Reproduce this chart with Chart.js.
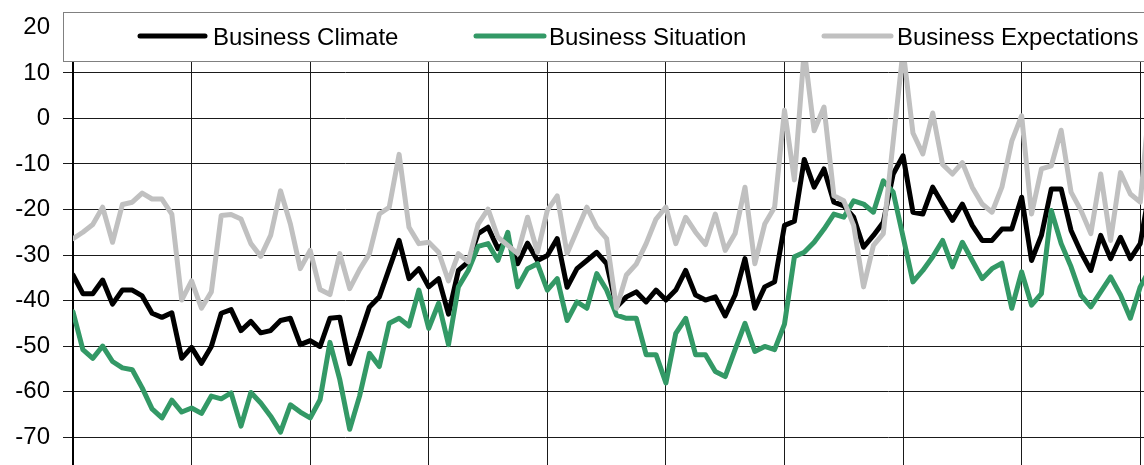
<!DOCTYPE html>
<html>
<head>
<meta charset="utf-8">
<script src="https://cdn.jsdelivr.net/npm/chart.js@4/dist/chart.umd.min.js"></script>
<style>
    html, body { margin: 0; padding: 0; background: #fff; overflow: hidden; }
    #wrap { width: 1160px; height: 510px; }
</style>
</head>
<body>
<div id="wrap"><canvas id="ifoChart" width="1160" height="510"></canvas></div>
<script>
// Monthly index values (month 0 = left axis)
const seriesNames = ['Business Climate', 'Business Situation', 'Business Expectations'];

const climate = [
    -34.4, -38.5, -38.5, -35.5, -40.8, -37.7, -37.7, -39.0, -42.8, -43.7, -42.7, -52.7,
    -50.3, -53.8, -50.1, -42.8, -42.0, -46.6, -44.6, -47.1, -46.6, -44.4, -43.9, -49.7,
    -48.8, -50.1, -43.9, -43.7, -53.9, -47.9, -41.4, -39.2, -33.0, -26.8, -35.2, -33.0,
    -37.0, -35.2, -43.0, -33.4, -31.5, -25.3, -23.9, -28.6, -26.8, -31.9, -27.4, -31.2,
    -30.1, -26.4, -37.1, -33.0, -31.2, -29.4, -31.9, -41.4, -39.2, -38.1, -40.3, -37.7,
    -39.9, -37.7, -33.4, -38.8, -39.9, -39.2, -43.4, -38.8, -30.8, -41.7, -37.0, -35.9,
    -23.5, -22.6, -9.0, -15.1, -11.1, -18.4, -19.2, -21.7, -28.3, -25.7, -22.8, -12.2,
    -8.2, -20.6, -21.0, -15.1, -18.8, -22.4, -18.8, -23.5, -26.8, -26.8, -24.3, -24.3,
    -17.3, -31.2, -25.7, -15.5, -15.5, -24.6, -29.4, -33.4, -25.7, -30.8, -26.1, -30.8,
    -27.5, -15.0
];

const situation = [
    -42.5, -50.8, -52.7, -50.0, -53.4, -54.8, -55.2, -59.2, -63.8, -65.8, -61.9, -64.5,
    -63.6, -64.8, -61.0, -61.6, -60.3, -67.6, -60.2, -62.5, -65.4, -68.9, -62.9, -64.5,
    -65.8, -61.8, -49.2, -57.4, -68.3, -61.0, -51.6, -54.5, -45.0, -43.9, -45.6, -37.7,
    -46.1, -40.6, -49.7, -37.0, -33.4, -28.1, -27.5, -31.2, -25.0, -37.0, -33.0, -31.9,
    -37.7, -35.2, -44.4, -40.3, -41.7, -34.1, -37.7, -43.2, -43.9, -43.9, -51.9, -51.9,
    -58.1, -47.2, -43.9, -51.9, -51.9, -55.6, -56.7, -50.8, -45.0, -51.2, -50.1, -50.8,
    -45.2, -30.4, -29.4, -27.2, -24.3, -21.0, -21.7, -18.1, -18.8, -20.6, -13.7, -16.2,
    -26.0, -35.9, -33.4, -30.4, -26.8, -32.6, -27.2, -31.2, -35.2, -33.0, -31.8, -41.7,
    -33.7, -41.0, -38.5, -20.2, -27.5, -32.6, -38.8, -41.4, -38.1, -34.8, -38.8, -43.9,
    -37.0, -33.0
];

const expectations = [
    -26.4, -25.0, -23.3, -19.5, -27.2, -18.9, -18.4, -16.4, -17.7, -17.7, -21.0, -39.9,
    -35.7, -41.7, -38.1, -21.3, -21.1, -22.1, -27.5, -30.3, -25.7, -15.9, -23.2, -33.0,
    -29.0, -37.6, -38.7, -29.7, -37.4, -33.2, -29.7, -21.0, -19.5, -7.9, -23.9, -27.5,
    -27.2, -29.4, -35.7, -29.7, -31.5, -23.2, -19.9, -26.1, -27.9, -29.7, -21.7, -29.4,
    -20.2, -17.0, -29.7, -24.6, -19.5, -23.9, -26.4, -41.7, -34.4, -32.0, -27.5, -22.1,
    -19.5, -27.5, -21.7, -25.0, -27.7, -21.0, -29.0, -25.3, -15.1, -31.9, -23.2, -19.5,
    1.8, -13.5, 15.0, -2.7, 2.5, -17.0, -18.1, -23.5, -37.0, -27.9, -25.3, -5.0,
    15.0, -3.2, -7.8, 1.2, -10.1, -12.2, -9.7, -15.1, -18.8, -20.6, -15.1, -5.0,
    0.6, -21.0, -11.1, -10.4, -2.6, -16.2, -20.2, -25.3, -12.2, -26.8, -11.9, -16.6,
    -18.4, 5.0
];

// month positions on the x axis
const months = climate.map((_, i) => i);

const yTicks = { min: -80, max: 20, step: 10 };

const toPoints = arr => arr.map((v, i) => ({ x: months[i], y: v }));

Chart.defaults.font.family = '"Liberation Sans", Arial, sans-serif';
Chart.defaults.font.size = 24;
Chart.defaults.color = '#000';

// legend drawn as a framed box lying over the top of the plot, like the original
const boxLegend = {
    id: 'boxLegend',
    afterDatasetsDraw(chart) {
        const ctx = chart.ctx;
        const items = [
            { x0: 140, x1: 205, tx: 213 },
            { x0: 476, x1: 544, tx: 549 },
            { x0: 824, x1: 891, tx: 897 }
        ];
        ctx.save();
        ctx.fillStyle = '#fff';
        ctx.fillRect(63, 12, 1120, 49);
        ctx.strokeStyle = '#808080';
        ctx.lineWidth = 1;
        ctx.strokeRect(63.5, 12.5, 1120, 49);
        ctx.font = '24px "Liberation Sans", Arial, sans-serif';
        ctx.textBaseline = 'alphabetic';
        ctx.textAlign = 'left';
        chart.data.datasets.forEach((ds, k) => {
            const it = items[k];
            ctx.strokeStyle = ds.borderColor;
            ctx.lineWidth = 5;
            ctx.lineCap = 'round';
            ctx.beginPath();
            ctx.moveTo(it.x0, 36);
            ctx.lineTo(it.x1, 36);
            ctx.stroke();
            ctx.fillStyle = '#000';
            ctx.fillText(ds.label, it.tx, 44.5);
        });
        ctx.restore();
    }
};

const ctx = document.getElementById('ifoChart').getContext('2d');
const ifoChart = new Chart(ctx, {
    type: 'line',
    data: {
        datasets: [
            {
                label: seriesNames[0],
                data: toPoints(climate),
                borderColor: '#000000',
                order: 2
            },
            {
                label: seriesNames[1],
                data: toPoints(situation),
                borderColor: '#339966',
                order: 1
            },
            {
                label: seriesNames[2],
                data: toPoints(expectations),
                borderColor: '#c0c0c0',
                order: 0
            }
        ]
    },
    options: {
        responsive: false,
        animation: false,
        layout: { padding: { top: 25, bottom: 8, left: 0, right: 0 } },
        elements: {
            line: { borderWidth: 5, tension: 0, borderJoinStyle: 'round', borderCapStyle: 'round' },
            point: { radius: 0, hoverRadius: 0 }
        },
        plugins: {
            legend: { display: false },
            tooltip: { enabled: false }
        },
        scales: {
            x: {
                type: 'linear',
                min: 0,
                max: 110,
                ticks: { display: false, stepSize: 12, includeBounds: false },
                grid: { color: '#1a1a1a', lineWidth: 1, drawTicks: false },
                border: { color: '#000', width: 1 }
            },
            y: {
                min: yTicks.min,
                max: yTicks.max,
                ticks: { stepSize: yTicks.step, padding: 13, color: '#000', font: { size: 24 } },
                grid: { color: '#1a1a1a', lineWidth: 1, tickLength: 10, tickColor: '#1a1a1a' },
                border: { color: '#000', width: 2 },
                afterFit: scale => { scale.width = 73; }
            }
        }
    },
    plugins: [boxLegend]
});
</script>
</body>
</html>
